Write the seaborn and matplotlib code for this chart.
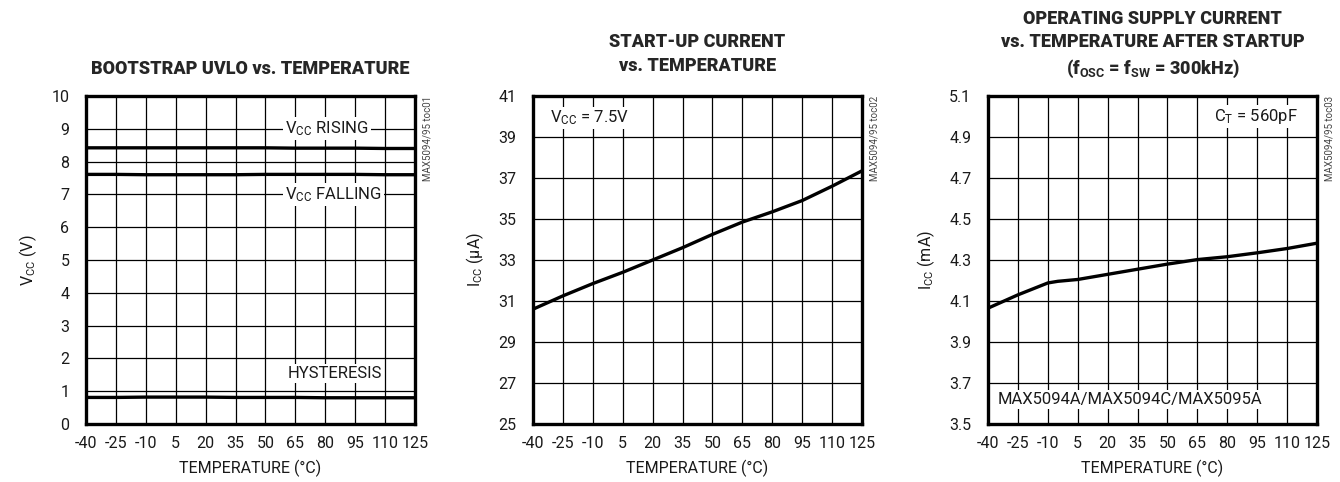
import numpy as np
import pandas as pd
import matplotlib
matplotlib.use("Agg")
import matplotlib.pyplot as plt
import seaborn as sns

# ------------------------------------------------------------------
# DATA
# ------------------------------------------------------------------
temps = [-40, -25, -10, 5, 20, 35, 50, 65, 80, 95, 110, 125]
temp_ticks = [-40, -25, -10, 5, 20, 35, 50, 65, 80, 95, 110, 125]

vcc_rising = [8.42, 8.42, 8.42, 8.42, 8.42, 8.42, 8.42, 8.41, 8.41, 8.41, 8.40, 8.40]
vcc_falling = [7.61, 7.61, 7.60, 7.60, 7.60, 7.60, 7.61, 7.61, 7.61, 7.61, 7.60, 7.60]
hysteresis = [0.81, 0.81, 0.82, 0.82, 0.82, 0.81, 0.81, 0.81, 0.80, 0.80, 0.80, 0.80]

startup_ua = [30.6, 31.25, 31.85, 32.4, 33.0, 33.6, 34.25, 34.85, 35.35, 35.9, 36.6, 37.35]

temps_op = [-40, -25, -10, -5, 5, 20, 35, 50, 65, 80, 95, 110, 125]
operating_ma = [4.065, 4.13, 4.188, 4.196, 4.205, 4.23, 4.255, 4.28, 4.302, 4.316, 4.335, 4.356, 4.382]

FONT = ["Roboto", "Liberation Sans", "DejaVu Sans"]

sns.set_style("white")
plt.rcParams["font.family"] = FONT
plt.rcParams["axes.unicode_minus"] = False
plt.rcParams["mathtext.fontset"] = "custom"
plt.rcParams["mathtext.rm"] = "Roboto"
plt.rcParams["mathtext.bf"] = "Roboto:bold"
plt.rcParams["mathtext.it"] = "Roboto:italic"

fig = plt.figure(figsize=(13.4, 4.82), dpi=100)
W, H = 1340, 482
lefts = [86, 533, 988]
axes = [fig.add_axes([l / W, (H - 424) / H, 329 / W, 328 / H]) for l in lefts]

white_box = dict(facecolor="white", edgecolor="none", pad=1.5)
TXT = "#1a1a1a"


def style_axes(ax, yticks, ylabel, fmt, tag):
    ax.set_xlim(-40, 125)
    ax.set_ylim(yticks[0], yticks[-1])
    ax.set_xticks(temp_ticks)
    ax.set_yticks(yticks)
    ax.set_yticklabels([fmt.format(v) for v in yticks])
    ax.tick_params(length=0, labelsize=11.5, colors=TXT)
    ax.tick_params(axis="x", pad=9)
    ax.tick_params(axis="y", pad=12)
    ax.grid(True, color="black", linewidth=0.9)
    ax.set_axisbelow(True)
    for sp in ax.spines.values():
        sp.set_visible(True)
        sp.set_linewidth(2.4)
        sp.set_color("black")
    ax.set_xlabel("TEMPERATURE (°C)", fontsize=11.5, labelpad=6, color=TXT)
    ax.set_ylabel(ylabel, fontsize=11.5, labelpad=9, color=TXT)
    ax.text(1.022, 1.0, tag, transform=ax.transAxes, rotation=90,
            ha="left", va="top", fontsize=7, color="#444444")


# ---- Panel 1: bootstrap UVLO ----
ax = axes[0]
df1 = pd.DataFrame({
    "temp": temps * 3,
    "v": vcc_rising + vcc_falling + hysteresis,
    "series": ["rising"] * 12 + ["falling"] * 12 + ["hyst"] * 12,
})
sns.lineplot(data=df1, x="temp", y="v", hue="series", ax=ax,
             palette=["black", "black", "black"], linewidth=2.4, legend=False)
style_axes(ax, list(range(0, 11)), r"V$_\mathrm{CC}$ (V)", "{:d}", "MAX5094/95 toc01")
ax.set_title("BOOTSTRAP UVLO vs. TEMPERATURE", fontsize=13, fontweight="black", pad=16)
ax.text(81, 9, r"V$_\mathrm{CC}$ RISING", ha="center", va="center", fontsize=12, color=TXT, bbox=white_box)
ax.text(84, 7, r"V$_\mathrm{CC}$ FALLING", ha="center", va="center", fontsize=12, color=TXT, bbox=white_box)
ax.text(85, 1.55, "HYSTERESIS", ha="center", va="center", fontsize=12, color=TXT, bbox=white_box)

# ---- Panel 2: start-up current ----
ax = axes[1]
sns.lineplot(x=temps, y=startup_ua, ax=ax, color="black", linewidth=2.4)
style_axes(ax, list(range(25, 42, 2)), r"I$_\mathrm{CC}$ (µA)", "{:d}", "MAX5094/95 toc02")
ax.set_title("START-UP CURRENT\nvs. TEMPERATURE", fontsize=13, fontweight="black",
             pad=18, linespacing=1.45)
ax.text(0.052, 0.933, r"V$_\mathrm{CC}$ = 7.5V", transform=ax.transAxes,
        ha="left", va="center", fontsize=12, color=TXT, bbox=white_box)

# ---- Panel 3: operating supply current ----
ax = axes[2]
sns.lineplot(x=temps_op, y=operating_ma, ax=ax, color="black", linewidth=2.4)
style_axes(ax, [3.5, 3.7, 3.9, 4.1, 4.3, 4.5, 4.7, 4.9, 5.1], r"I$_\mathrm{CC}$ (mA)",
           "{:.1f}", "MAX5094/95 toc03")
ax.set_title("OPERATING SUPPLY CURRENT\nvs. TEMPERATURE AFTER STARTUP\n"
             r"(f$_\mathbf{OSC}$ = f$_\mathbf{SW}$ = 300kHz)",
             fontsize=13, fontweight="black", pad=16, linespacing=1.4)
ax.text(0.94, 0.939, r"C$_\mathrm{T}$ = 560pF", transform=ax.transAxes,
        ha="right", va="center", fontsize=12, color=TXT, bbox=white_box)
ax.text(0.03, 0.076, "MAX5094A/MAX5094C/MAX5095A", transform=ax.transAxes,
        ha="left", va="center", fontsize=12, color=TXT, bbox=white_box)

fig.savefig("out.png", dpi=100)
